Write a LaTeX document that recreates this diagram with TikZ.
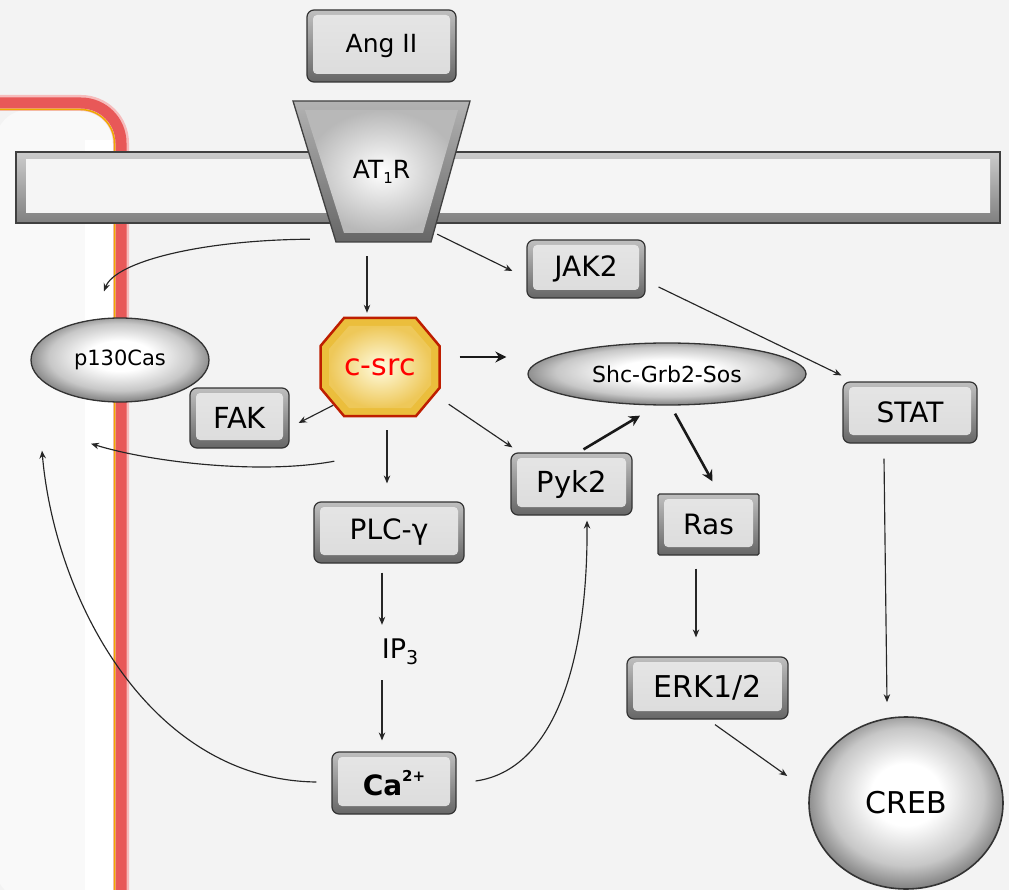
\documentclass[tikz,border=0pt]{standalone}
\usepackage{fontspec}
\setmainfont{DejaVu Sans}
\usetikzlibrary{calc,arrows.meta,shapes.geometric}
\definecolor{bgc}{RGB}{243,243,243}
\definecolor{cellc}{RGB}{249,249,249}
\definecolor{redb}{RGB}{232,88,88}
\definecolor{yelb}{RGB}{238,170,0}
\definecolor{octrim}{RGB}{190,30,0}
\definecolor{octout}{RGB}{235,190,60}
\definecolor{octin}{RGB}{255,252,225}
\pgfdeclareradialshading{myball}{\pgfpoint{0bp}{3bp}}{color(0bp)=(white); color(9bp)=(white); color(20bp)=(black!22); color(26bp)=(black!48); color(50bp)=(black!48)}
\newcommand\myfs[1]{\fontsize{#1}{#1}\selectfont}
\begin{document}
\begin{tikzpicture}[x=1pt,y=-1pt,
  box/.style={draw=black!80, line width=1.2pt, rounded corners=7pt, inner sep=0pt,
    top color=black!25, bottom color=black!60,
    path picture={\shade[rounded corners=4pt, top color=black!10, middle color=white, bottom color=black!14]
      ($(path picture bounding box.north west)+(6,5)$) rectangle ($(path picture bounding box.south east)+(-6,-8)$);}},
  ell/.style={ellipse, draw=black!80, line width=1.3pt, inner sep=0pt, shading=myball},
  arr/.style={draw=black!85, line width=1.15pt, -{Stealth[length=8pt,width=6.5pt]}},
  thickarr/.style={draw=black!90, line width=2.6pt, -{Stealth[length=11pt,width=11pt]}}]
\useasboundingbox (0,0) rectangle (1009,890);
% background
\fill[bgc] (0,0) rectangle (1009,890);
% cell interior
\fill[cellc, rounded corners=34pt] (-5,109.5) -- (114.5,109.5) -- (114.5,900) -- (-5,900) -- cycle;
\fill[white] (85,140) rectangle (114.5,900);
% cell border
\draw[redb!40, line width=16pt, rounded corners=40pt] (-10,103) -- (121,103) -- (121,900);
\draw[redb, line width=11pt, rounded corners=40pt] (-10,103) -- (121,103) -- (121,900);
\draw[yelb, line width=1.5pt, rounded corners=34pt] (-10,109.5) -- (114.5,109.5) -- (114.5,900);
% membrane
\draw[black!75, line width=1.5pt, top color=black!20, bottom color=black!50] (16,152) rectangle (1000,223);
\shade[top color=black!4, middle color=white, bottom color=black!4] (26,160) rectangle (990,213);
% receptor
\draw[black!75, line width=1.3pt, top color=black!30, bottom color=black!60] (293,101) -- (470,101) -- (431,242) -- (336,242) -- cycle;
\shade[inner color=white, outer color=black!28] (305,110) -- (458,110) -- (423,233) -- (344,233) -- cycle;
\node[inner sep=0pt, minimum width=177, minimum height=141, font=\myfs{25}] (at1r) at (381.5,171.5) {AT\raisebox{-0.35ex}{\myfs{15}1}R};
% c-src octagon
\coordinate (cc) at (380,367);
\draw[octrim, line width=2.5pt, fill=octout] ($(cc)+(-36,-49)$) -- ($(cc)+(36,-49)$) -- ($(cc)+(59.5,-21)$) -- ($(cc)+(59.5,21)$) -- ($(cc)+(36,49)$) -- ($(cc)+(-36,49)$) -- ($(cc)+(-59.5,21)$) -- ($(cc)+(-59.5,-21)$) -- cycle;
\shade[inner color=octin, outer color=octout!85] ($(cc)+(-31,-41)$) -- ($(cc)+(31,-41)$) -- ($(cc)+(51,-18)$) -- ($(cc)+(51,18)$) -- ($(cc)+(31,41)$) -- ($(cc)+(-31,41)$) -- ($(cc)+(-51,18)$) -- ($(cc)+(-51,-18)$) -- cycle;
\node[inner sep=0pt, minimum width=119, minimum height=98, text=red, font=\myfs{30}] (csrc) at (cc) {c-src};
% nodes
\node[box, minimum width=149, minimum height=72, font=\myfs{25}] (angii) at (381.5,46) {Ang II};
\node[box, minimum width=118, minimum height=58, font=\myfs{28}] (jak2) at (586,269) {JAK2};
\node[ell, minimum width=178, minimum height=84, font=\myfs{21}] (p130) at (120,360) {p130Cas};
\node[box, minimum width=99, minimum height=60, font=\myfs{29}] (fak) at (239.5,418) {FAK};
\node[ell, minimum width=278, minimum height=62, font=\myfs{22}] (shc) at (667,374) {Shc-Grb2-Sos};
\node[box, minimum width=134, minimum height=61, font=\myfs{28}] (stat) at (910,412.5) {STAT};
\node[box, minimum width=121, minimum height=62, font=\myfs{29}] (pyk2) at (571.5,484) {Pyk2};
\node[box, rounded corners=1.5pt, minimum width=101, minimum height=61, font=\myfs{28}] (ras) at (708.5,524.5) {Ras};
\node[box, minimum width=150, minimum height=61, font=\myfs{28}] (plc) at (389,532.5) {PLC-γ};
\node[inner sep=0pt, minimum height=40, font=\myfs{27}] (ip3) at (400,652) {IP\raisebox{-0.4ex}{\myfs{19}3}};
\node[box, minimum width=124, minimum height=62, font=\myfs{28}] (ca) at (394,783) {\bfseries Ca\raisebox{0.9ex}{\myfs{15}2+}};
\node[box, minimum width=161, minimum height=62, font=\myfs{30}] (erk) at (707.5,688) {ERK1/2};
\node[ell, line width=1.6pt, minimum width=194, minimum height=172, font=\myfs{30}] (creb) at (906,803) {CREB};
% connectors
\draw[arr] ($(at1r.south west)+(17,-3)$) .. controls (200,240) and (115,262) .. ($(p130.north)+(-16,-26)$);
\draw[arr] ($(at1r.south)+(-14.5,14)$) -- ($(csrc.north)+(-13,-5)$);
\draw[arr] ($(at1r.south east)+(-33,-8)$) -- ($(jak2.west)+(-14,2)$);
\draw[arr] ($(jak2.east)+(13,18)$) -- ($(stat.north west)+(-1,-6)$);
\draw[thickarr] ($(csrc.east)+(20,-10)$) -- ($(shc.west)+(-21,-17)$);
\draw[arr] ($(csrc.south west)+(13,-11)$) -- ($(fak.east)+(9,5)$);
\draw[arr] ($(csrc.south west)+(14,45)$) .. controls (260,475) and (150,462) .. ($(p130.south)+(-29,41)$);
\draw[arr] ($(csrc.south)+(7,14)$) -- ($(plc.north)+(-2,-18)$);
\draw[arr] ($(csrc.south east)+(9,-12)$) -- ($(pyk2.north west)+(2,-5)$);
\draw[thickarr] ($(pyk2.north)+(12,-3)$) -- ($(shc.south)+(-27,10)$);
\draw[thickarr] ($(shc.south)+(8,8)$) -- ($(ras.north)+(4,-12)$);
\draw[arr] ($(plc.south)+(-7,9)$) -- ($(ip3.north)+(-18,-7)$);
\draw[arr] ($(ip3.south)+(-18,8)$) -- ($(ca.north)+(-12,-11)$);
\draw[arr] ($(ca.east)+(19,-2)$) .. controls (555,770) and (588,660) .. ($(pyk2.south)+(15.5,5)$);
\draw[arr] ($(ca.west)+(-15,-1)$) .. controls (150,780) and (55,600) .. ($(p130.south)+(-78,48)$);
\draw[arr] ($(ras.south)+(-12.5,13)$) -- ($(erk.north)+(-11.5,-19)$);
\draw[arr] ($(stat.south)+(-26,15)$) -- ($(creb.north)+(-19,-14)$);
\draw[arr] ($(erk.south)+(7.5,5)$) -- ($(creb.west)+(-21,-27)$);
\end{tikzpicture}
\end{document}
